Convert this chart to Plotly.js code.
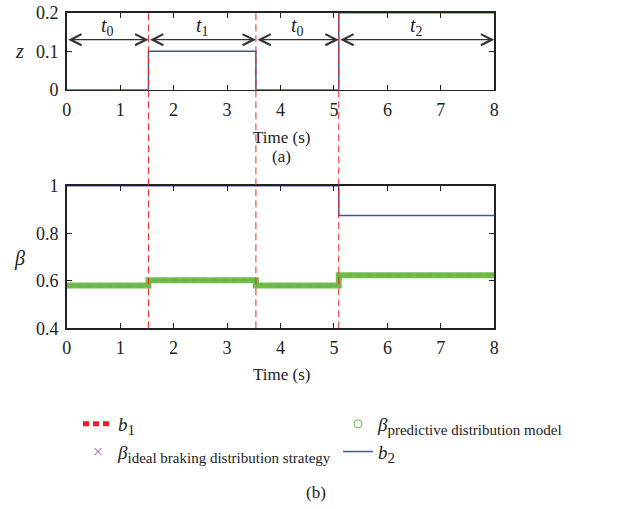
<!DOCTYPE html>
<html><head><meta charset="utf-8">
<script src="https://cdn.plot.ly/plotly-3.0.1.min.js"></script>
<style>body{margin:0;padding:0;background:#fff}#chart{width:643px;height:509px}</style>
</head><body><div id="chart"></div>
<script>
// ---- data ----
const switchTimes = [1.53, 3.54, 5.09];
const stepTime = [0, 1.53, 3.54, 5.09, 8];
const zValues = [0, 0.1, 0, 0.2, 0.2];
const b1Values = [0.58, 0.602, 0.58, 0.623, 0.623];
const b2Values = [1, 1, 1, 0.875, 0.875];
const predValues = [0.58, 0.602, 0.58, 0.623, 0.623];
const idealValues = [0.58, 0.602, 0.58, 0.623, 0.623];
const phaseLabels = ['<i>t</i><sub>0</sub>', '<i>t</i><sub>1</sub>', '<i>t</i><sub>0</sub>', '<i>t</i><sub>2</sub>'];
const xTicks = [0, 1, 2, 3, 4, 5, 6, 7, 8];

const FONT = 'Liberation Serif, Times New Roman, serif';
const W = 643, H = 509;
const px = v => v / W, py = v => 1 - v / H;
const SUB = s => '<sub><span style="font-size:15px">' + s + '</span></sub>';

const traces = [
  {x: stepTime, y: zValues, xaxis: 'x', yaxis: 'y', mode: 'lines', line: {shape: 'hv', color: '#3a57a8', width: 1.5}, showlegend: false, hoverinfo: 'skip'},
  {x: stepTime, y: b1Values, xaxis: 'x2', yaxis: 'y2', mode: 'lines', line: {shape: 'hv', color: '#e8202a', width: 4, dash: '6px,4px'}, showlegend: false},
  {x: stepTime, y: idealValues, xaxis: 'x2', yaxis: 'y2', mode: 'lines', line: {shape: 'hv', color: '#a040a0', width: 2}, showlegend: false},
  {x: stepTime, y: predValues, xaxis: 'x2', yaxis: 'y2', mode: 'lines', line: {shape: 'hv', color: '#6cbd45', width: 6}, opacity: 0.95, showlegend: false},
  {x: stepTime, y: b2Values, xaxis: 'x2', yaxis: 'y2', mode: 'lines', line: {shape: 'hv', color: '#3a57a8', width: 1.5}, showlegend: false},
  // legend entries
  {x: [null], y: [null], xaxis: 'x2', yaxis: 'y2', mode: 'lines', name: '<i>b</i>' + SUB('1'), line: {color: '#e8202a', width: 5, dash: '6px,4px'}},
  {x: [null], y: [null], xaxis: 'x2', yaxis: 'y2', mode: 'markers', name: '<i>β</i>' + SUB('predictive distribution model'), marker: {symbol: 'circle-open', color: '#6cbd45', size: 8}},
  {x: [null], y: [null], xaxis: 'x2', yaxis: 'y2', mode: 'markers', name: '<i>β</i>' + SUB('ideal braking distribution strategy'), marker: {symbol: 'x-thin-open', color: '#a040a0', size: 7, line: {width: 1, color: '#a040a0'}}},
  {x: [null], y: [null], xaxis: 'x2', yaxis: 'y2', mode: 'lines', name: '<i>b</i>' + SUB('2'), line: {color: '#3a57a8', width: 1.5}}
];

const bounds = [0].concat(switchTimes, [8]);
const annotations = [];
for (let i = 0; i < bounds.length - 1; i++) {
  annotations.push({x: bounds[i+1], y: 0.13, ax: bounds[i], ay: 0.13, xref: 'x', yref: 'y', axref: 'x', ayref: 'y',
    text: '', showarrow: true, arrowside: 'end+start', arrowhead: 5, startarrowhead: 5, arrowsize: 1.8, startarrowsize: 1.8, arrowwidth: 1.2, arrowcolor: '#333', standoff: 0, startstandoff: 0});
  annotations.push({x: (bounds[i] + bounds[i+1]) / 2, y: 0.163, xref: 'x', yref: 'y', text: phaseLabels[i], showarrow: false, font: {family: FONT, size: 20, color: '#222'}});
}
const txt = (t, x, y, size) => ({text: t, x: px(x), y: py(y), xref: 'paper', yref: 'paper', xanchor: 'center', yanchor: 'middle', showarrow: false, font: {family: FONT, size: size || 17, color: '#222'}});
annotations.push(txt('<i>z</i>', 19, 51, 20));
annotations.push(txt('<i>β</i>', 19, 258, 20));
annotations.push(txt('Time (s)', 281, 137));
annotations.push(txt('(a)', 281, 156));
annotations.push(txt('Time (s)', 281, 374));
annotations.push(txt('(b)', 316, 492));

const shapes = switchTimes.map(t => ({type: 'line', xref: 'x', yref: 'paper', x0: t, x1: t, y0: py(328.3), y1: py(12.7), line: {color: '#ee2a2a', width: 1, dash: '7px,4px'}}));

const axBase = {showline: true, linecolor: '#222', linewidth: 1.5, mirror: 'ticks', ticks: 'inside', ticklen: 5, tickcolor: '#222', showgrid: false, zeroline: false, ticklabelstandoff: 3, tickfont: {family: FONT, size: 18, color: '#222'}, fixedrange: true};
const xdom = [px(66.7), px(494.3)];
const layout = {
  width: W, height: H, margin: {l: 0, r: 0, t: 0, b: 0}, paper_bgcolor: '#fff', plot_bgcolor: '#fff',
  font: {family: FONT, size: 17, color: '#222'},
  xaxis: Object.assign({}, axBase, {domain: xdom, anchor: 'y', range: [0, 8], tickvals: xTicks}),
  yaxis: Object.assign({}, axBase, {domain: [py(89.7), py(12.7)], anchor: 'x', range: [0, 0.2], tickvals: [0, 0.1, 0.2], ticktext: ['0', '0.1', '0.2']}),
  xaxis2: Object.assign({}, axBase, {domain: xdom, anchor: 'y2', range: [0, 8], tickvals: xTicks}),
  yaxis2: Object.assign({}, axBase, {domain: [py(328.3), py(185.7)], anchor: 'x2', range: [0.4, 1], tickvals: [0.4, 0.6, 0.8, 1], ticktext: ['0.4', '0.6', '0.8', '1']}),
  showlegend: true,
  legend: {orientation: 'h', x: px(78), y: py(405), xanchor: 'left', yanchor: 'top', itemwidth: 30, entrywidthmode: 'pixels', entrywidth: 215, font: {family: FONT, size: 19, color: '#222'}, bgcolor: 'rgba(0,0,0,0)', tracegroupgap: 0, traceorder: 'normal'},
  annotations: annotations, shapes: shapes
};
Plotly.newPlot('chart', traces, layout, {displayModeBar: false, staticPlot: true});
</script></body></html>
